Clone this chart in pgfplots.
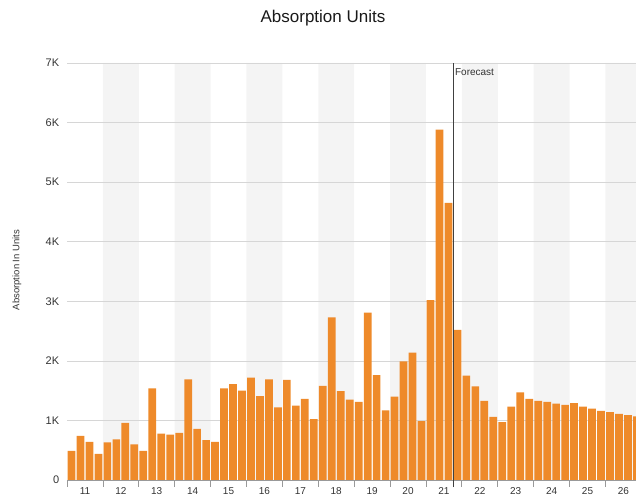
\documentclass[border=0pt]{standalone}
\usepackage{pgfplots}
\pgfplotsset{compat=1.18}
\usepackage{fontspec}
\setmainfont{Liberation Sans}
\definecolor{barorange}{HTML}{EE8A2A}
\definecolor{band}{HTML}{F4F4F4}
\definecolor{gridc}{HTML}{D6D6D6}
\definecolor{txt}{HTML}{333333}
\pgfplotstableread{
x y
1 490
2 740
3 640
4 440
5 630
6 680
7 960
8 600
9 490
10 1540
11 780
12 760
13 790
14 1690
15 860
16 670
17 640
18 1540
19 1610
20 1500
21 1720
22 1410
23 1690
24 1220
25 1680
26 1250
27 1360
28 1020
29 1580
30 2730
31 1490
32 1350
33 1310
34 2810
35 1760
36 1170
37 1400
38 1990
39 2140
40 990
41 3020
42 5880
43 4650
44 2520
45 1750
46 1570
47 1330
48 1060
49 970
50 1230
51 1470
52 1360
53 1330
54 1310
55 1280
56 1260
57 1290
58 1230
59 1200
60 1160
61 1140
62 1110
63 1090
64 1070
}\absdata
\begin{document}
\begin{tikzpicture}[x=1pt,y=1pt]
\begin{axis}[
  set layers,
  at={(67pt,17pt)}, anchor=south west,
  scale only axis, width=569pt, height=417pt,
  xmin=0.5, xmax=63.9, ymin=0, ymax=7000,
  clip=false,
  axis x line*=bottom, axis y line*=left,
  x axis line style={color=gray!80, -},
  y axis line style={draw=none},
  ytick={0,1000,2000,3000,4000,5000,6000,7000},
  yticklabels={0,1K,2K,3K,4K,5K,6K,7K},
  ymajorgrids, grid style={gridc, line width=0.7pt},
  major y tick style={draw=none},
  yticklabel style={font=\fontsize{11}{13}\selectfont, text=txt},
  xtick={2.5,6.5,10.5,14.5,18.5,22.5,26.5,30.5,34.5,38.5,42.5,46.5,50.5,54.5,58.5,62.5},
  xticklabels={11,12,13,14,15,16,17,18,19,20,21,22,23,24,25,26},
  minor xtick={0.5,4.5,8.5,12.5,16.5,20.5,24.5,28.5,32.5,36.5,40.5,44.5,48.5,52.5,56.5,60.5},
  major x tick style={draw=none},
  minor x tick style={draw=gray!80, line width=0.8pt},
  minor tick length=7pt,
  tick align=outside,
  xticklabel style={font=\fontsize{10}{12}\selectfont, text=txt},
]
\addplot[ybar, bar width=4, bar shift=0pt, fill=band, draw=none, on layer=axis background, forget plot]
  coordinates {(6.5,7000)(14.5,7000)(22.5,7000)(30.5,7000)(38.5,7000)(46.5,7000)(54.5,7000)(62.5,7000)};
\addplot[ybar, bar width=0.86, bar shift=0pt, fill=barorange, draw=none] table[x=x,y=y] {\absdata};
\addplot[draw=black!75, line width=0.6pt, forget plot] coordinates {(43.5,-120)(43.5,7000)};
\node[anchor=north west, font=\fontsize{10}{12}\selectfont, text=txt, inner sep=0pt, xshift=2pt, yshift=-5pt] at (axis cs:43.5,7000) {Forecast};
\end{axis}
\node[font=\fontsize{17}{20}\selectfont, text=black!90] at (323pt,479pt) {Absorption Units};
\node[rotate=90, font=\fontsize{9.5}{11}\selectfont, text=txt] at (17pt,227pt) {Absorption In Units};
\pgfresetboundingbox
\useasboundingbox (0,0) rectangle (636pt,497pt);
\end{tikzpicture}
\end{document}
